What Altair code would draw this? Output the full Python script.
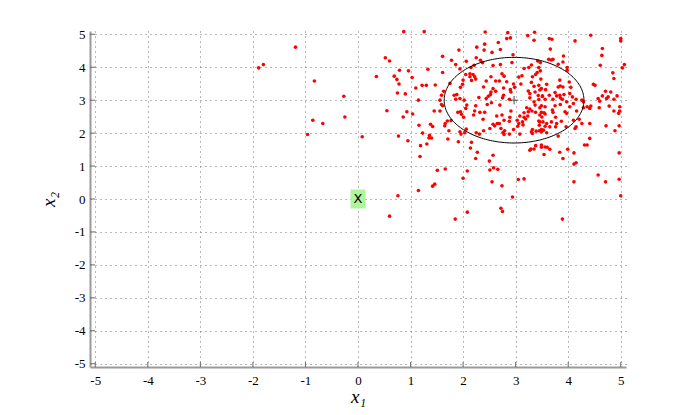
import altair as alt
import numpy as np
import pandas as pd

# ---- data ----
points = [
    # sparse left part
    (-1.89, 3.98), (-1.80, 4.08), (-1.19, 4.61), (-0.83, 3.58), (-0.86, 2.39), (-0.67, 2.29),
    (-0.96, 1.96), (-0.27, 3.12), (-0.25, 2.49), (0.08, 1.89), (0.52, 4.29), (0.60, 4.19),
    (0.35, 3.72), (0.55, 2.68), (0.60, -0.52),
    # x 0.6 .. 2, upper
    (0.87, 5.08), (1.26, 5.08), (1.92, 4.52), (1.61, 4.33), (1.78, 4.21), (1.86, 4.08),
    (0.79, 3.91), (0.96, 3.89), (1.33, 3.94), (1.61, 3.84), (0.69, 3.73), (0.74, 3.63),
    (1.03, 3.69), (0.78, 3.49), (1.10, 3.37), (1.22, 3.45), (1.30, 3.45), (1.47, 3.46),
    (1.75, 3.51), (1.95, 3.39), (1.99, 3.48), (0.75, 3.22), (0.90, 3.19), (1.63, 3.27),
    (1.59, 3.15), (1.83, 3.15), (1.88, 3.17), (1.86, 3.03), (1.94, 3.05), (1.15, 3.00),
    (1.56, 3.00), (1.59, 2.87), (1.61, 2.83), (0.93, 2.65), (1.04, 2.58), (1.45, 2.67),
    (1.56, 2.67), (1.90, 2.63), (1.95, 2.65), (1.97, 2.57), (1.94, 3.95),
    # x 0.6 .. 2, lower
    (0.86, 2.49), (1.16, 2.24), (1.38, 2.27), (1.42, 2.20), (1.65, 2.22), (1.66, 2.29),
    (1.70, 2.37), (1.77, 2.38), (1.73, 2.07), (1.94, 2.04), (1.96, 1.97), (2.03, 2.01),
    (0.77, 1.91), (1.23, 2.00), (1.36, 1.93), (1.35, 1.85), (1.40, 1.85), (1.71, 1.82),
    (0.95, 1.77), (1.31, 1.67), (1.19, 1.62), (1.91, 1.74), (1.18, 1.29), (1.51, 0.87),
    (1.66, 0.91), (2.00, 0.63), (1.46, 0.45), (1.42, 0.39), (1.15, 0.26), (0.76, 0.10),
    # x 2 .. 3.5, upper
    (2.42, 5.07), (2.85, 5.05), (2.83, 4.87), (2.90, 4.89), (3.36, 5.06), (3.23, 4.96),
    (3.35, 4.82), (2.67, 4.75), (2.41, 4.70), (2.26, 4.61), (2.40, 4.52), (2.71, 4.54),
    (2.55, 4.45), (2.95, 4.38), (2.25, 4.29), (2.06, 4.18), (2.33, 4.21), (2.37, 4.14),
    (2.93, 4.14), (3.42, 4.19), (3.47, 4.14), (2.21, 4.06), (2.57, 4.05), (2.71, 4.08),
    (3.30, 4.07), (2.15, 3.99), (3.16, 3.96), (3.25, 3.99), (3.44, 3.99), (2.05, 3.78),
    (2.13, 3.80), (2.19, 3.78), (2.13, 3.71), (2.22, 3.71), (2.00, 3.61), (2.16, 3.60),
    (2.24, 3.64), (2.53, 3.71), (2.74, 3.80), (2.78, 3.73), (3.12, 3.74), (3.06, 3.70),
    (3.32, 3.71), (3.38, 3.78), (3.41, 3.84), (3.48, 3.64), (2.44, 3.58), (2.62, 3.58),
    (2.69, 3.58), (2.83, 3.56), (2.96, 3.49), (3.10, 3.49), (3.30, 3.54), (3.35, 3.42),
    (3.44, 3.45), (2.39, 3.40), (2.57, 3.35), (2.77, 3.37), (2.90, 3.32), (2.98, 3.39),
    (2.53, 3.25), (2.62, 3.27), (2.91, 3.25), (3.24, 3.28), (3.27, 3.20), (3.37, 3.25),
    (3.46, 3.31), (2.48, 3.12), (2.52, 3.17), (2.77, 3.15), (3.43, 3.14), (3.51, 3.11),
    (2.30, 3.08), (2.44, 3.05), (2.75, 3.07), (2.88, 3.03), (3.27, 3.07), (3.35, 2.95),
    (3.44, 3.02), (2.02, 3.00), (2.54, 2.92), (2.46, 2.87), (2.07, 2.85), (2.24, 2.83),
    (2.05, 2.75), (2.70, 2.85), (3.37, 2.85), (3.21, 2.77), (3.27, 2.73), (3.31, 2.67),
    (3.46, 2.77), (2.32, 2.63), (2.41, 2.63), (2.22, 2.67), (2.91, 2.67), (3.38, 2.63),
    (3.49, 2.63),
    # x 2 .. 3.5, lower
    (2.20, 2.55), (2.64, 2.52), (2.74, 2.55), (2.89, 2.48), (3.16, 2.62), (3.24, 2.65),
    (3.08, 2.52), (3.16, 2.48), (3.19, 2.43), (3.23, 2.52), (3.46, 2.55), (3.50, 2.49),
    (3.54, 2.62), (2.01, 2.48), (2.38, 2.42), (2.78, 2.39), (2.88, 2.36), (3.03, 2.39),
    (3.06, 2.29), (3.13, 2.34), (3.44, 2.37), (3.45, 2.24), (2.57, 2.27), (2.60, 2.22),
    (2.65, 2.29), (2.69, 2.29), (2.51, 2.14), (2.39, 2.07), (2.72, 2.14), (2.79, 2.07),
    (2.96, 2.11), (3.04, 2.21), (3.14, 2.25), (3.30, 2.04), (3.32, 1.99), (3.39, 2.06),
    (3.45, 2.07), (3.49, 2.11), (3.32, 2.11), (2.06, 2.12), (2.25, 2.01), (2.31, 1.97),
    (2.88, 1.97), (2.78, 1.96), (2.76, 2.02), (3.08, 1.97), (2.16, 1.72), (2.14, 1.55),
    (2.27, 1.42), (3.38, 1.62), (3.35, 1.52), (3.27, 1.48), (3.29, 1.52), (3.49, 1.64),
    (2.57, 1.33), (2.24, 1.23), (2.50, 1.15), (2.08, 0.85), (2.51, 0.88), (2.58, 0.95),
    (2.66, 0.90), (3.05, 0.59), (3.16, 0.61), (2.55, 0.52), (2.74, 0.40), (2.94, 0.06),
    (1.85, -0.61), (2.08, -0.40), (2.72, -0.28), (2.75, -0.38),
    # x 3.5 .. 5, upper
    (4.43, 4.97), (3.64, 4.87), (3.69, 4.85), (4.13, 4.80), (5.00, 4.87), (5.00, 4.80),
    (3.66, 4.55), (4.65, 4.57), (3.91, 4.34), (4.64, 4.36), (3.63, 4.24), (3.68, 4.22),
    (3.71, 4.24), (3.90, 4.16), (5.07, 4.08), (4.61, 4.06), (3.81, 4.09), (3.98, 3.99),
    (3.98, 3.91), (3.47, 3.89), (5.03, 3.98), (4.85, 3.83), (4.87, 3.66), (3.84, 3.61),
    (3.85, 3.43), (3.90, 3.40), (3.81, 3.40), (4.02, 3.55), (4.05, 3.39), (3.59, 3.48),
    (3.57, 3.32), (4.48, 3.48), (4.51, 3.45), (3.49, 3.35), (3.75, 3.23), (3.64, 3.15),
    (4.03, 3.20), (4.08, 3.10), (3.78, 3.13), (3.84, 3.15), (3.92, 3.17), (3.85, 3.07),
    (3.89, 3.03), (3.71, 3.03), (3.56, 3.03), (3.51, 3.13), (4.65, 3.13), (4.71, 3.27),
    (4.81, 3.25), (4.76, 3.10), (4.93, 3.13), (4.87, 3.03), (4.73, 3.05), (4.57, 3.05),
    (4.60, 2.97), (4.26, 3.00), (4.29, 2.95), (4.15, 3.03), (4.10, 2.90), (3.49, 2.83),
    (3.56, 2.80), (3.75, 2.83), (3.85, 2.87), (3.97, 2.95), (4.03, 2.80), (3.70, 2.70),
    (3.94, 2.65), (3.97, 2.60), (3.71, 2.63), (4.29, 2.77), (4.36, 2.80), (4.41, 2.75),
    (4.43, 2.82), (4.59, 2.77), (4.78, 2.82), (4.98, 2.80), (4.98, 2.67), (4.96, 2.60),
    # x 3.5 .. 5, lower
    (4.16, 2.67), (4.87, 2.67), (3.56, 2.58), (3.46, 2.34), (3.52, 2.34), (3.56, 2.21),
    (3.59, 2.29), (3.68, 2.34), (3.65, 2.19), (3.76, 2.19), (3.78, 2.29), (3.76, 2.48),
    (3.87, 2.36), (3.96, 2.19), (4.10, 2.39), (4.13, 2.14), (4.15, 2.19), (4.21, 2.42),
    (4.26, 2.29), (4.41, 2.29), (3.49, 2.04), (3.59, 2.01), (3.53, 2.09), (3.81, 1.91),
    (4.72, 2.22), (4.89, 2.07), (4.97, 2.22), (4.41, 1.84), (3.49, 1.57), (3.56, 1.58),
    (3.60, 1.57), (3.65, 1.51), (3.54, 1.35), (3.84, 1.42), (3.90, 1.23), (3.99, 1.51),
    (4.11, 1.40), (4.31, 1.64), (4.36, 1.64), (4.97, 1.40), (4.11, 1.06), (4.15, 1.10),
    (4.57, 0.73), (4.11, 0.52), (4.71, 0.52), (4.97, 0.60), (5.00, 0.10), (3.89, -0.61),
]

ellipse_center = (2.97, 3.0)
ellipse_radii = (1.33, 1.3)
query_point = (0.0, 0.0)
tick_values = [-5, -4, -3, -2, -1, 0, 1, 2, 3, 4, 5]
x_domain = [-5.1, 5.1]
y_domain = [-5.1, 5.1]

W, H = 536, 336
SERIF = "Liberation Serif"

df = pd.DataFrame(points, columns=["x1", "x2"])
t = np.linspace(0, 2 * np.pi, 181)
ell = pd.DataFrame({
    "x1": ellipse_center[0] + ellipse_radii[0] * np.cos(t),
    "x2": ellipse_center[1] + ellipse_radii[1] * np.sin(t),
    "o": np.arange(len(t)),
})
center_df = pd.DataFrame({"x1": [ellipse_center[0]], "x2": [ellipse_center[1]]})
q_df = pd.DataFrame({"x1": [query_point[0]], "x2": [query_point[1]], "label": ["X"]})
ticks_df = pd.DataFrame({"v": tick_values})

xs = alt.Scale(domain=x_domain, nice=False, zero=False)
ys = alt.Scale(domain=y_domain, nice=False, zero=False)

x_axis = alt.Axis(title="x\u2081", values=tick_values, labelPadding=7,
                  titleBaseline="alphabetic", titleY=35, labelOverlap=False)
y_axis = alt.Axis(title="x\u2082", values=tick_values, labelPadding=5, titlePadding=16,
                  labelOverlap=False)

pts = alt.Chart(df).mark_circle(size=13, color="#ff0000", opacity=1).encode(
    x=alt.X("x1:Q", scale=xs, axis=x_axis),
    y=alt.Y("x2:Q", scale=ys, axis=y_axis),
)

ellipse = alt.Chart(ell).mark_line(color="black", strokeWidth=1).encode(
    x=alt.X("x1:Q", scale=xs, axis=x_axis), y=alt.Y("x2:Q", scale=ys, axis=y_axis),
    order="o:Q"
)

plus = alt.Chart(center_df).mark_point(
    shape="M-1,0L1,0M0,-1L0,1", size=70, color="black", strokeWidth=1, filled=False
).encode(x=alt.X("x1:Q", scale=xs, axis=x_axis), y=alt.Y("x2:Q", scale=ys, axis=y_axis))

box = alt.Chart(q_df).mark_point(
    shape="M-0.79,-1L0.79,-1L0.79,1L-0.79,1Z", size=361, filled=True,
    color="#aef59c", opacity=1, strokeWidth=0
).encode(x=alt.X("x1:Q", scale=xs, axis=x_axis), y=alt.Y("x2:Q", scale=ys, axis=y_axis))

box_txt = alt.Chart(q_df).mark_text(
    font="DejaVu Sans", fontSize=13, color="black", baseline="middle", align="center"
).encode(x=alt.X("x1:Q", scale=xs, axis=x_axis), y=alt.Y("x2:Q", scale=ys, axis=y_axis),
         text="label:N")

xticks = alt.Chart(ticks_df).mark_rule(color="#6a6a6a", strokeWidth=1).encode(
    x=alt.X("v:Q", scale=xs, axis=x_axis), y=alt.value(H), y2=alt.value(H - 5)
)
yticks = alt.Chart(ticks_df).mark_rule(color="#6a6a6a", strokeWidth=1).encode(
    y=alt.Y("v:Q", scale=ys, axis=y_axis), x=alt.value(0), x2=alt.value(5)
)

chart = alt.layer(pts, ellipse, plus, box, box_txt, xticks, yticks).properties(
    width=W, height=H,
    autosize=alt.AutoSizeParams(type="none"),
    padding={"left": 82, "top": 23, "right": 50, "bottom": 40},
    background="white",
).configure_view(stroke=None).configure_axis(
    grid=True, gridDash=[1, 4], gridColor="#707070", gridWidth=1, ticks=False,
    domainColor="#9a9a9a", domainWidth=2, labelFont=SERIF, labelFontSize=13,
    labelColor="black", labelOverlap=False, titleFont=SERIF, titleFontSize=19,
    titleFontStyle="italic", titleFontWeight="normal", titleColor="black",
    labelExpr="replace(datum.label, '\u2212', '-')",
)

chart.save("out.html", embed_options={"renderer": "svg", "actions": False})
